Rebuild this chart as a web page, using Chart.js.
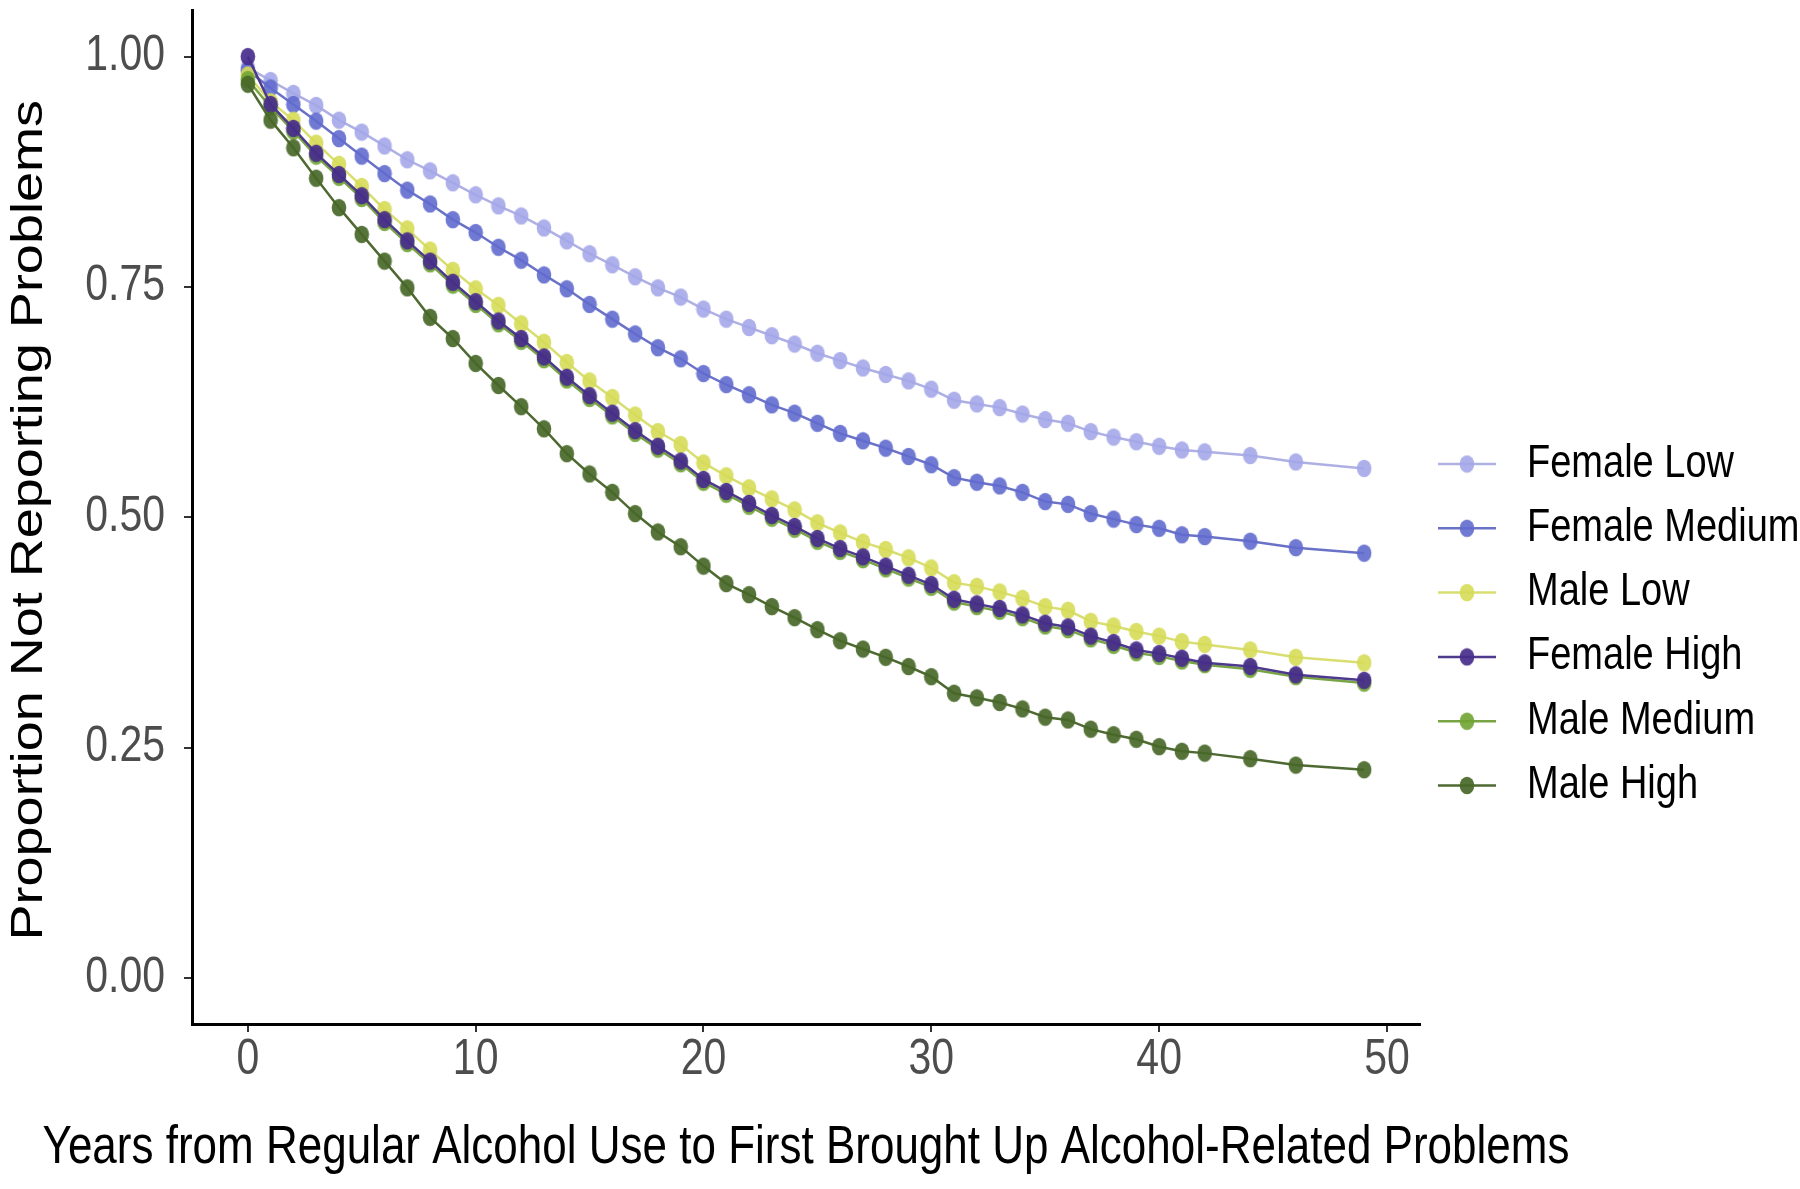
<!DOCTYPE html>
<html>
<head>
<meta charset="utf-8">
<script src="https://cdn.jsdelivr.net/npm/chart.js@4.4.1/dist/chart.umd.min.js"></script>
<style>
  html, body { margin: 0; padding: 0; background: #fff; }
  #wrap { position: relative; width: 1800px; height: 1189px; }
</style>
</head>
<body>
<div id="wrap"><canvas id="survival"></canvas></div>
<script>
// years since regular alcohol use
var years = [0, 1, 2, 3, 4, 5, 6, 7, 8, 9, 10, 11, 12, 13, 14, 15, 16, 17, 18, 19, 20,
  21, 22, 23, 24, 25, 26, 27, 28, 29, 30, 31, 32, 33, 34, 35, 36, 37, 38, 39, 40,
  41, 42, 44, 46, 49];

var femaleLow = [0.988, 0.974, 0.960, 0.947, 0.931, 0.918, 0.903, 0.888, 0.876, 0.863, 0.850,
  0.838, 0.827, 0.814, 0.800, 0.786, 0.774, 0.761, 0.749, 0.739, 0.726,
  0.715, 0.706, 0.697, 0.688, 0.678, 0.670, 0.662, 0.655, 0.648, 0.639,
  0.627, 0.623, 0.619, 0.612, 0.606, 0.602, 0.593, 0.587, 0.582, 0.577,
  0.573, 0.571, 0.567, 0.560, 0.553];

var femaleMedium = [0.985, 0.966, 0.948, 0.930, 0.911, 0.892, 0.873, 0.855, 0.840, 0.823, 0.809,
  0.793, 0.779, 0.763, 0.748, 0.731, 0.715, 0.699, 0.684, 0.672, 0.656,
  0.644, 0.633, 0.622, 0.613, 0.602, 0.591, 0.583, 0.575, 0.566, 0.557,
  0.543, 0.538, 0.534, 0.527, 0.517, 0.514, 0.504, 0.498, 0.492, 0.488,
  0.481, 0.479, 0.474, 0.467, 0.461];

var maleLow = [0.980, 0.951, 0.931, 0.906, 0.883, 0.859, 0.834, 0.813, 0.790, 0.768, 0.748,
  0.730, 0.710, 0.690, 0.668, 0.648, 0.630, 0.611, 0.593, 0.579, 0.559,
  0.545, 0.532, 0.520, 0.508, 0.494, 0.483, 0.473, 0.465, 0.456, 0.445,
  0.429, 0.425, 0.419, 0.412, 0.403, 0.399, 0.387, 0.382, 0.376, 0.371,
  0.365, 0.362, 0.356, 0.348, 0.342];

var femaleHigh = [1.000, 0.948, 0.922, 0.895, 0.872, 0.849, 0.823, 0.800, 0.778, 0.755, 0.734,
  0.713, 0.694, 0.674, 0.652, 0.632, 0.613, 0.594, 0.577, 0.561, 0.541,
  0.528, 0.515, 0.502, 0.490, 0.477, 0.466, 0.457, 0.447, 0.437, 0.427,
  0.411, 0.406, 0.401, 0.394, 0.385, 0.381, 0.371, 0.364, 0.356, 0.352,
  0.347, 0.342, 0.338, 0.329, 0.323];

var maleMedium = [0.975, 0.945, 0.919, 0.892, 0.869, 0.846, 0.820, 0.797, 0.775, 0.752, 0.731,
  0.710, 0.691, 0.671, 0.649, 0.629, 0.610, 0.591, 0.574, 0.558, 0.538,
  0.525, 0.512, 0.499, 0.487, 0.474, 0.463, 0.454, 0.444, 0.434, 0.424,
  0.408, 0.403, 0.398, 0.391, 0.382, 0.378, 0.368, 0.361, 0.353, 0.349,
  0.344, 0.340, 0.335, 0.327, 0.320];

var maleHigh = [0.970, 0.931, 0.901, 0.868, 0.836, 0.807, 0.778, 0.749, 0.717, 0.694, 0.667,
  0.643, 0.620, 0.596, 0.569, 0.547, 0.527, 0.504, 0.484, 0.468, 0.447,
  0.428, 0.416, 0.403, 0.391, 0.378, 0.366, 0.357, 0.348, 0.338, 0.327,
  0.309, 0.304, 0.299, 0.292, 0.283, 0.280, 0.270, 0.264, 0.259, 0.251,
  0.246, 0.244, 0.238, 0.231, 0.226];

var seriesNames = ["Female Low", "Female Medium", "Male Low", "Female High", "Male Medium", "Male High"];
var seriesValues = [femaleLow, femaleMedium, maleLow, femaleHigh, maleMedium, maleHigh];
var lineColors = ["#aeb0e4", "#6a72c8", "#d8de70", "#4e3a8c", "#78a444", "#4e6a32"];
var dotColors = ["rgba(164,167,232,0.9)", "rgba(98,108,206,0.9)", "rgba(214,220,88,0.9)",
  "rgba(70,44,140,0.92)", "rgba(112,164,52,0.9)", "rgba(72,104,40,0.92)"];
var drawOrder = [6, 5, 4, 2, 3, 1];

var yTicks = [0, 0.25, 0.5, 0.75, 1];
var xTicks = [0, 10, 20, 30, 40, 50];

var FONT = "'Liberation Sans', Arial, Helvetica, sans-serif";
var SY = 1.2; // the original is stretched vertically

/* oval dot, like the original markers */
var dotImage = function(color){
  var c = document.createElement("canvas");
  c.width = 16; c.height = 19;
  var g = c.getContext("2d");
  g.fillStyle = color;
  g.beginPath();
  g.ellipse(8, 9.5, 7.3, 8.8, 0, 0, 2 * Math.PI);
  g.fill();
  return c;
};

var stretchText = function(ctx, text, x, y, size, color, align, rotated){
  ctx.save();
  ctx.translate(x, y);
  ctx.font = size + "px " + FONT;
  ctx.fillStyle = color;
  ctx.textAlign = align;
  ctx.textBaseline = "middle";
  if (rotated) {
    ctx.rotate(-Math.PI / 2);
    ctx.scale(SY, 1);
  } else {
    ctx.scale(1, SY);
  }
  ctx.fillText(text, 0, 0);
  ctx.restore();
};

var datasets = [];
for (var i = 0; i < seriesNames.length; i++) {
  var pts = [];
  for (var j = 0; j < years.length; j++) {
    pts.push({x: years[j], y: seriesValues[i][j]});
  }
  datasets.push({
    label: seriesNames[i],
    data: pts,
    borderColor: lineColors[i],
    borderWidth: 2.5,
    pointStyle: dotImage(dotColors[i]),
    pointRadius: 8,
    order: drawOrder[i],
    tension: 0
  });
}

/* tick labels, axis titles and legend drawn with the vertical stretch */
var textPlugin = {
  id: "stretchedText",
  afterDraw: function(chart){
    var ctx = chart.ctx;
    var xs = chart.scales.x, ys = chart.scales.y, area = chart.chartArea;
    for (var i = 0; i < yTicks.length; i++) {
      stretchText(ctx, yTicks[i].toFixed(2), 165, ys.getPixelForValue(yTicks[i]), 41, "#4d4d4d", "right", false);
    }
    for (var k = 0; k < xTicks.length; k++) {
      stretchText(ctx, String(xTicks[k]), xs.getPixelForValue(xTicks[k]), 1060, 41, "#4d4d4d", "center", false);
    }
    stretchText(ctx, "Years from Regular Alcohol Use to First Brought Up Alcohol-Related Problems",
      (area.left + area.right) / 2, 1148, 44, "#000", "center", false);
    stretchText(ctx, "Proportion Not Reporting Problems", 30, (area.top + area.bottom) / 2 + 3, 45, "#000", "center", true);

    // legend
    for (var n = 0; n < seriesNames.length; n++) {
      var ly = 464 + n * 64.3;
      ctx.save();
      ctx.strokeStyle = lineColors[n];
      ctx.lineWidth = 2.5;
      ctx.beginPath();
      ctx.moveTo(1438, ly);
      ctx.lineTo(1496, ly);
      ctx.stroke();
      var img = datasets[n].pointStyle;
      ctx.drawImage(img, 1467 - img.width / 2, ly - img.height / 2);
      ctx.restore();
      stretchText(ctx, seriesNames[n], 1527, ly, 38, "#000", "left", false);
    }
  }
};

var ctx = document.getElementById("survival");
var myChart = new Chart(ctx, {
  type: "line",
  data: { datasets: datasets },
  plugins: [textPlugin],
  options: {
    responsive: true,
    maintainAspectRatio: false,
    animation: false,
    events: [],
    layout: { padding: { top: 9, right: 380, left: 0, bottom: 0 } },
    plugins: { legend: { display: false }, tooltip: { enabled: false } },
    scales: {
      x: {
        type: "linear",
        min: -2.45,
        max: 51.45,
        afterFit: function(scale){ scale.height = 165; },
        ticks: { display: false, stepSize: 10, includeBounds: false },
        grid: { drawOnChartArea: false, drawTicks: true, tickLength: 8, color: "#333", lineWidth: 2 },
        border: { display: true, color: "#000", width: 3 }
      },
      y: {
        type: "linear",
        min: -0.05,
        max: 1.05,
        afterFit: function(scale){ scale.width = 192; },
        ticks: { display: false, stepSize: 0.25, includeBounds: false },
        grid: { drawOnChartArea: false, drawTicks: true, tickLength: 8, color: "#333", lineWidth: 2 },
        border: { display: true, color: "#000", width: 3 }
      }
    }
  }
});
</script>
</body>
</html>
